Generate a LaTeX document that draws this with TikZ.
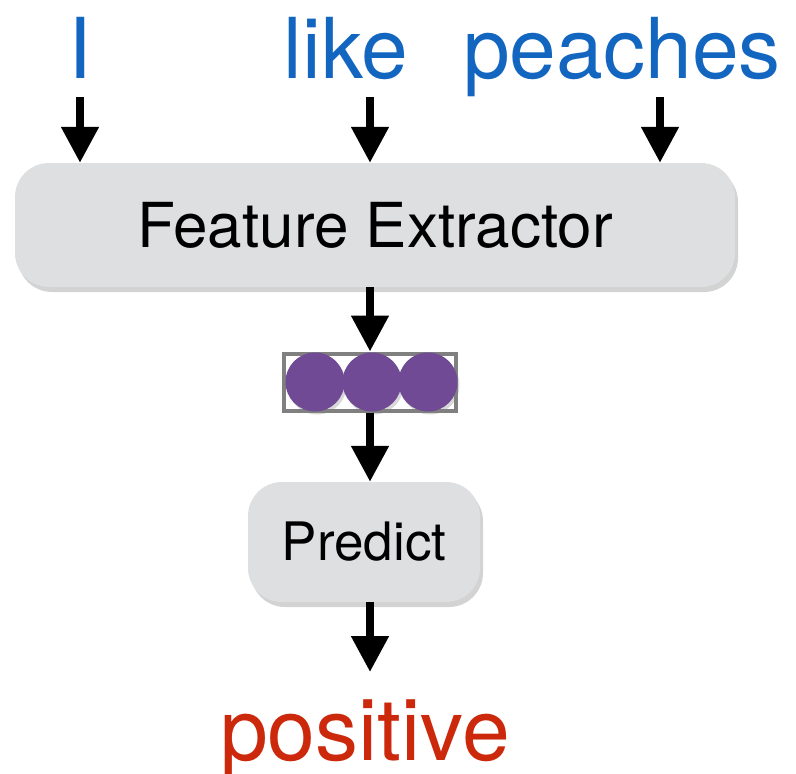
\documentclass[tikz,border=0pt]{standalone}
\usepackage{fontspec}
\setmainfont{TeX Gyre Heros}
\usetikzlibrary{arrows.meta,shadows}
\definecolor{wordblue}{RGB}{18,102,192}
\definecolor{labelred}{RGB}{204,40,12}
\definecolor{boxgray}{RGB}{222,223,225}
\definecolor{vecpurple}{RGB}{112,74,148}

\begin{document}
\begin{tikzpicture}[x=1pt, y=-1pt,
    block/.style={draw=none, fill=boxgray, rounded corners=34pt,
        drop shadow={shadow xshift=3pt, shadow yshift=-5pt, opacity=0.35}},
    flow/.style={line width=8pt, -{Triangle[width=36pt, length=36pt]}},
    word/.style={anchor=base, text=wordblue, font=\fontsize{84}{90}\selectfont},
    unit/.style={circle, fill=vecpurple, minimum size=59pt, inner sep=0pt,
        drop shadow={shadow xshift=2pt, shadow yshift=-3pt, opacity=0.3}}]
    \useasboundingbox (0,0) rectangle (796,774);

    % input words
    \node[word] (w1) at (80,78) {I};
    \node[word] (w2) at (346,78) {like};
    \node[word] (w3) at (622,78) {peaches};

    % feature extractor and predictor
    \node[block, minimum width=720pt, minimum height=124pt,
        font=\fontsize{62}{70}\selectfont] (fe) at (375,225) {Feature Extractor};
    \node[block, minimum width=232pt, minimum height=120pt,
        font=\fontsize{53}{60}\selectfont] (pr) at (364,542) {Predict};

    % feature vector
    \node[draw=gray, line width=4pt, fill=white, minimum width=172pt,
        minimum height=57pt, inner sep=0pt] (vec) at (370,382) {};
    \foreach \x [count=\i] in {315,372,428} {
        \node[unit] (u\i) at (\x,382) {};
    }

    % output label
    \node[anchor=base, text=labelred, font=\fontsize{86}{90}\selectfont]
        (out) at (365,760) {positive};

    % arrows
    \coordinate (s1) at (80,97);
    \coordinate (s2) at (370,97);
    \coordinate (s3) at (660,97);
    \draw[flow] (s1) -- (s1 |- fe.north);
    \draw[flow] (s2) -- (s2 |- fe.north);
    \draw[flow] (s3) -- (s3 |- fe.north);
    \draw[flow] (fe.south -| vec) -- (vec.north);
    \draw[flow] (vec.south) -- (vec.south |- pr.north);
    \coordinate (o1) at (370,672);
    \draw[flow] (pr.south -| o1) -- (o1);
\end{tikzpicture}
\end{document}
